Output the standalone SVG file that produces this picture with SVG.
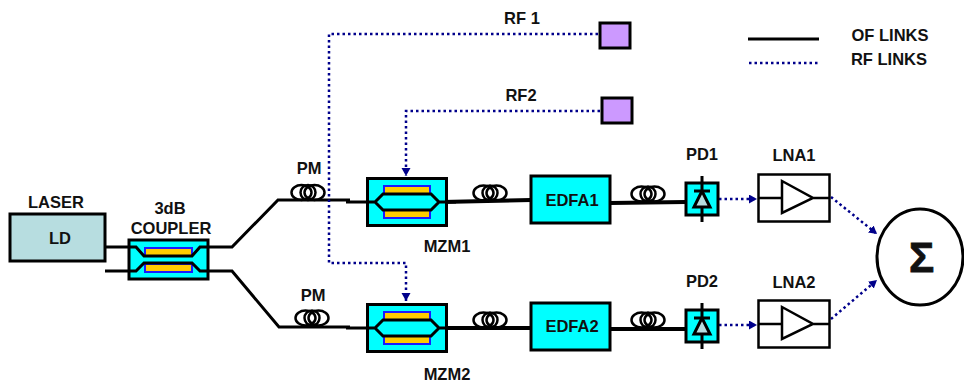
<svg xmlns="http://www.w3.org/2000/svg" width="964" height="383" viewBox="0 0 964 383">
<style>
text{font-family:"Liberation Sans",Arial,sans-serif;font-weight:700;font-size:16.5px;fill:#111;text-anchor:middle}
.of{fill:none;stroke:#000;stroke-width:3}
.ofb{fill:none;stroke:#000;stroke-width:4}
.of2{fill:none;stroke:#000;stroke-width:3}
.rf{fill:none;stroke:#00008b;stroke-width:2.5;stroke-dasharray:2.5 3}
.box{fill:#0ff;stroke:#000;stroke-width:3}
.arm{fill:#fc0;stroke:#1a1aff;stroke-width:2}
.coil{fill:none;stroke:#000;stroke-width:2.5}
.pad{fill:#c9f;stroke:#000;stroke-width:3}
.lna{fill:#fff;stroke:#000;stroke-width:2.5}
.amp{fill:none;stroke:#000;stroke-width:2.5}
</style>
<defs>
<marker id="ah" markerUnits="userSpaceOnUse" markerWidth="10" markerHeight="10" refX="8" refY="4.5" orient="auto"><path d="M0 0L8 4.5L0 9Z" fill="#00008b"/></marker>
<g id="coilshape"><ellipse cx="-6.500" cy="0" rx="10" ry="7.500" class="coil"/><ellipse cx="6.500" cy="0" rx="10" ry="7.500" class="coil"/><ellipse cx="0" cy="0" rx="7.500" ry="7.500" class="coil"/></g>
<g id="mzm"><rect x="1.500" y="1.500" width="79" height="47" class="box"/><rect x="18" y="9" width="46" height="8" class="arm"/><rect x="18" y="33" width="46" height="8" class="arm"/><path d="M-20 25H9L17 17H65L73 25H90M9 25L17 33H65L73 25" class="of2"/></g>
<g id="pd"><rect x="1" y="1" width="32" height="32" class="box"/><path d="M17-6V40M9 9H25" class="of2"/><path d="M17 9L9 25H25Z" fill="#b7dde0" stroke="#000" stroke-width="3"/></g>
<g id="lnabox"><rect x="1.500" y="1.500" width="71" height="47" class="lna"/><path d="M2 25H25M56 25H72M25 8V40L56 25Z" class="amp"/></g>
</defs>

<g id="connectors">
<path class="of" d="M105 247H130M105 271H130"/>
<path class="of" d="M208 247H232L278 200H350"/>
<path class="of" d="M208 271H232L279 327H350"/>
<path class="ofb" d="M442 202L531 200"/>
<path class="ofb" d="M442 328H531"/>
<path class="ofb" d="M610 203L686 202"/>
<path class="ofb" d="M610 329H686"/>
<path class="rf" d="M598 34H329V263H406V301" marker-end="url(#ah)"/>
<path class="rf" d="M600 111H406V176" marker-end="url(#ah)"/>
<path class="rf" d="M719 199H757" marker-end="url(#ah)"/>
<path class="rf" d="M719 325H757" marker-end="url(#ah)"/>
<path class="rf" d="M831 197L877 234" marker-end="url(#ah)"/>
<path class="rf" d="M831 319L877 280" marker-end="url(#ah)"/>
<path d="M748 39H819" stroke="#000" stroke-width="3" fill="none"/>
<path class="rf" d="M749 63H819"/>
</g>

<g id="laser"><rect x="10" y="214" width="95" height="47" fill="#b7dde0" stroke="#000" stroke-width="3"/><text x="60" y="244">LD</text><text x="56" y="208">LASER</text></g>
<g id="coupler">
<rect x="129" y="240" width="79" height="39" class="box"/>
<rect x="145" y="248" width="47" height="8" class="arm"/><rect x="145" y="264" width="47" height="8" class="arm"/>
<path class="of2" d="M128 247H136L144 256H192L200 247H208M128 271H136L144 263H192L200 271H208"/>
<text x="170" y="214">3dB</text><text x="171" y="234">COUPLER</text>
</g>
<g id="pm1"><use href="#coilshape" x="308" y="192.500"/><text x="309" y="174">PM</text></g>
<g id="pm2"><use href="#coilshape" x="312" y="318"/><text x="313" y="301">PM</text></g>
<g id="mzm1"><use href="#mzm" x="366" y="177"/><text x="447" y="252">MZM1</text></g>
<g id="mzm2"><use href="#mzm" x="366" y="303"/><text x="447" y="380">MZM2</text></g>
<g id="coil3"><use href="#coilshape" x="490" y="193"/></g>
<g id="coil4"><use href="#coilshape" x="490" y="320"/></g>
<g id="edfa1"><rect x="531" y="176" width="79" height="47" class="box"/><text x="572" y="206">EDFA1</text></g>
<g id="edfa2"><rect x="531" y="303" width="79" height="47" class="box"/><text x="572" y="332">EDFA2</text></g>
<g id="coil5"><use href="#coilshape" x="648" y="194"/></g>
<g id="coil6"><use href="#coilshape" x="648" y="320"/></g>
<g id="pd1"><use href="#pd" x="685" y="182"/><text x="702" y="160">PD1</text></g>
<g id="pd2"><use href="#pd" x="685" y="309"/><text x="702" y="287">PD2</text></g>
<g id="lna1"><use href="#lnabox" x="757" y="173"/><text x="794" y="161">LNA1</text></g>
<g id="lna2"><use href="#lnabox" x="757" y="299"/><text x="794" y="288">LNA2</text></g>
<g id="sum"><ellipse cx="920" cy="257" rx="43" ry="48" fill="#fff" stroke="#000" stroke-width="3"/><text x="921.500" y="272" style="font-size:42px;stroke:#111;stroke-width:0.8">Σ</text></g>
<g id="rf1"><rect x="600" y="23" width="30" height="25" class="pad"/><text x="522" y="24">RF 1</text></g>
<g id="rf2"><rect x="602" y="98" width="30" height="25" class="pad"/><text x="521" y="101">RF2</text></g>
<g id="legend"><text x="890" y="41">OF LINKS</text><text x="889" y="65">RF LINKS</text></g>
</svg>
